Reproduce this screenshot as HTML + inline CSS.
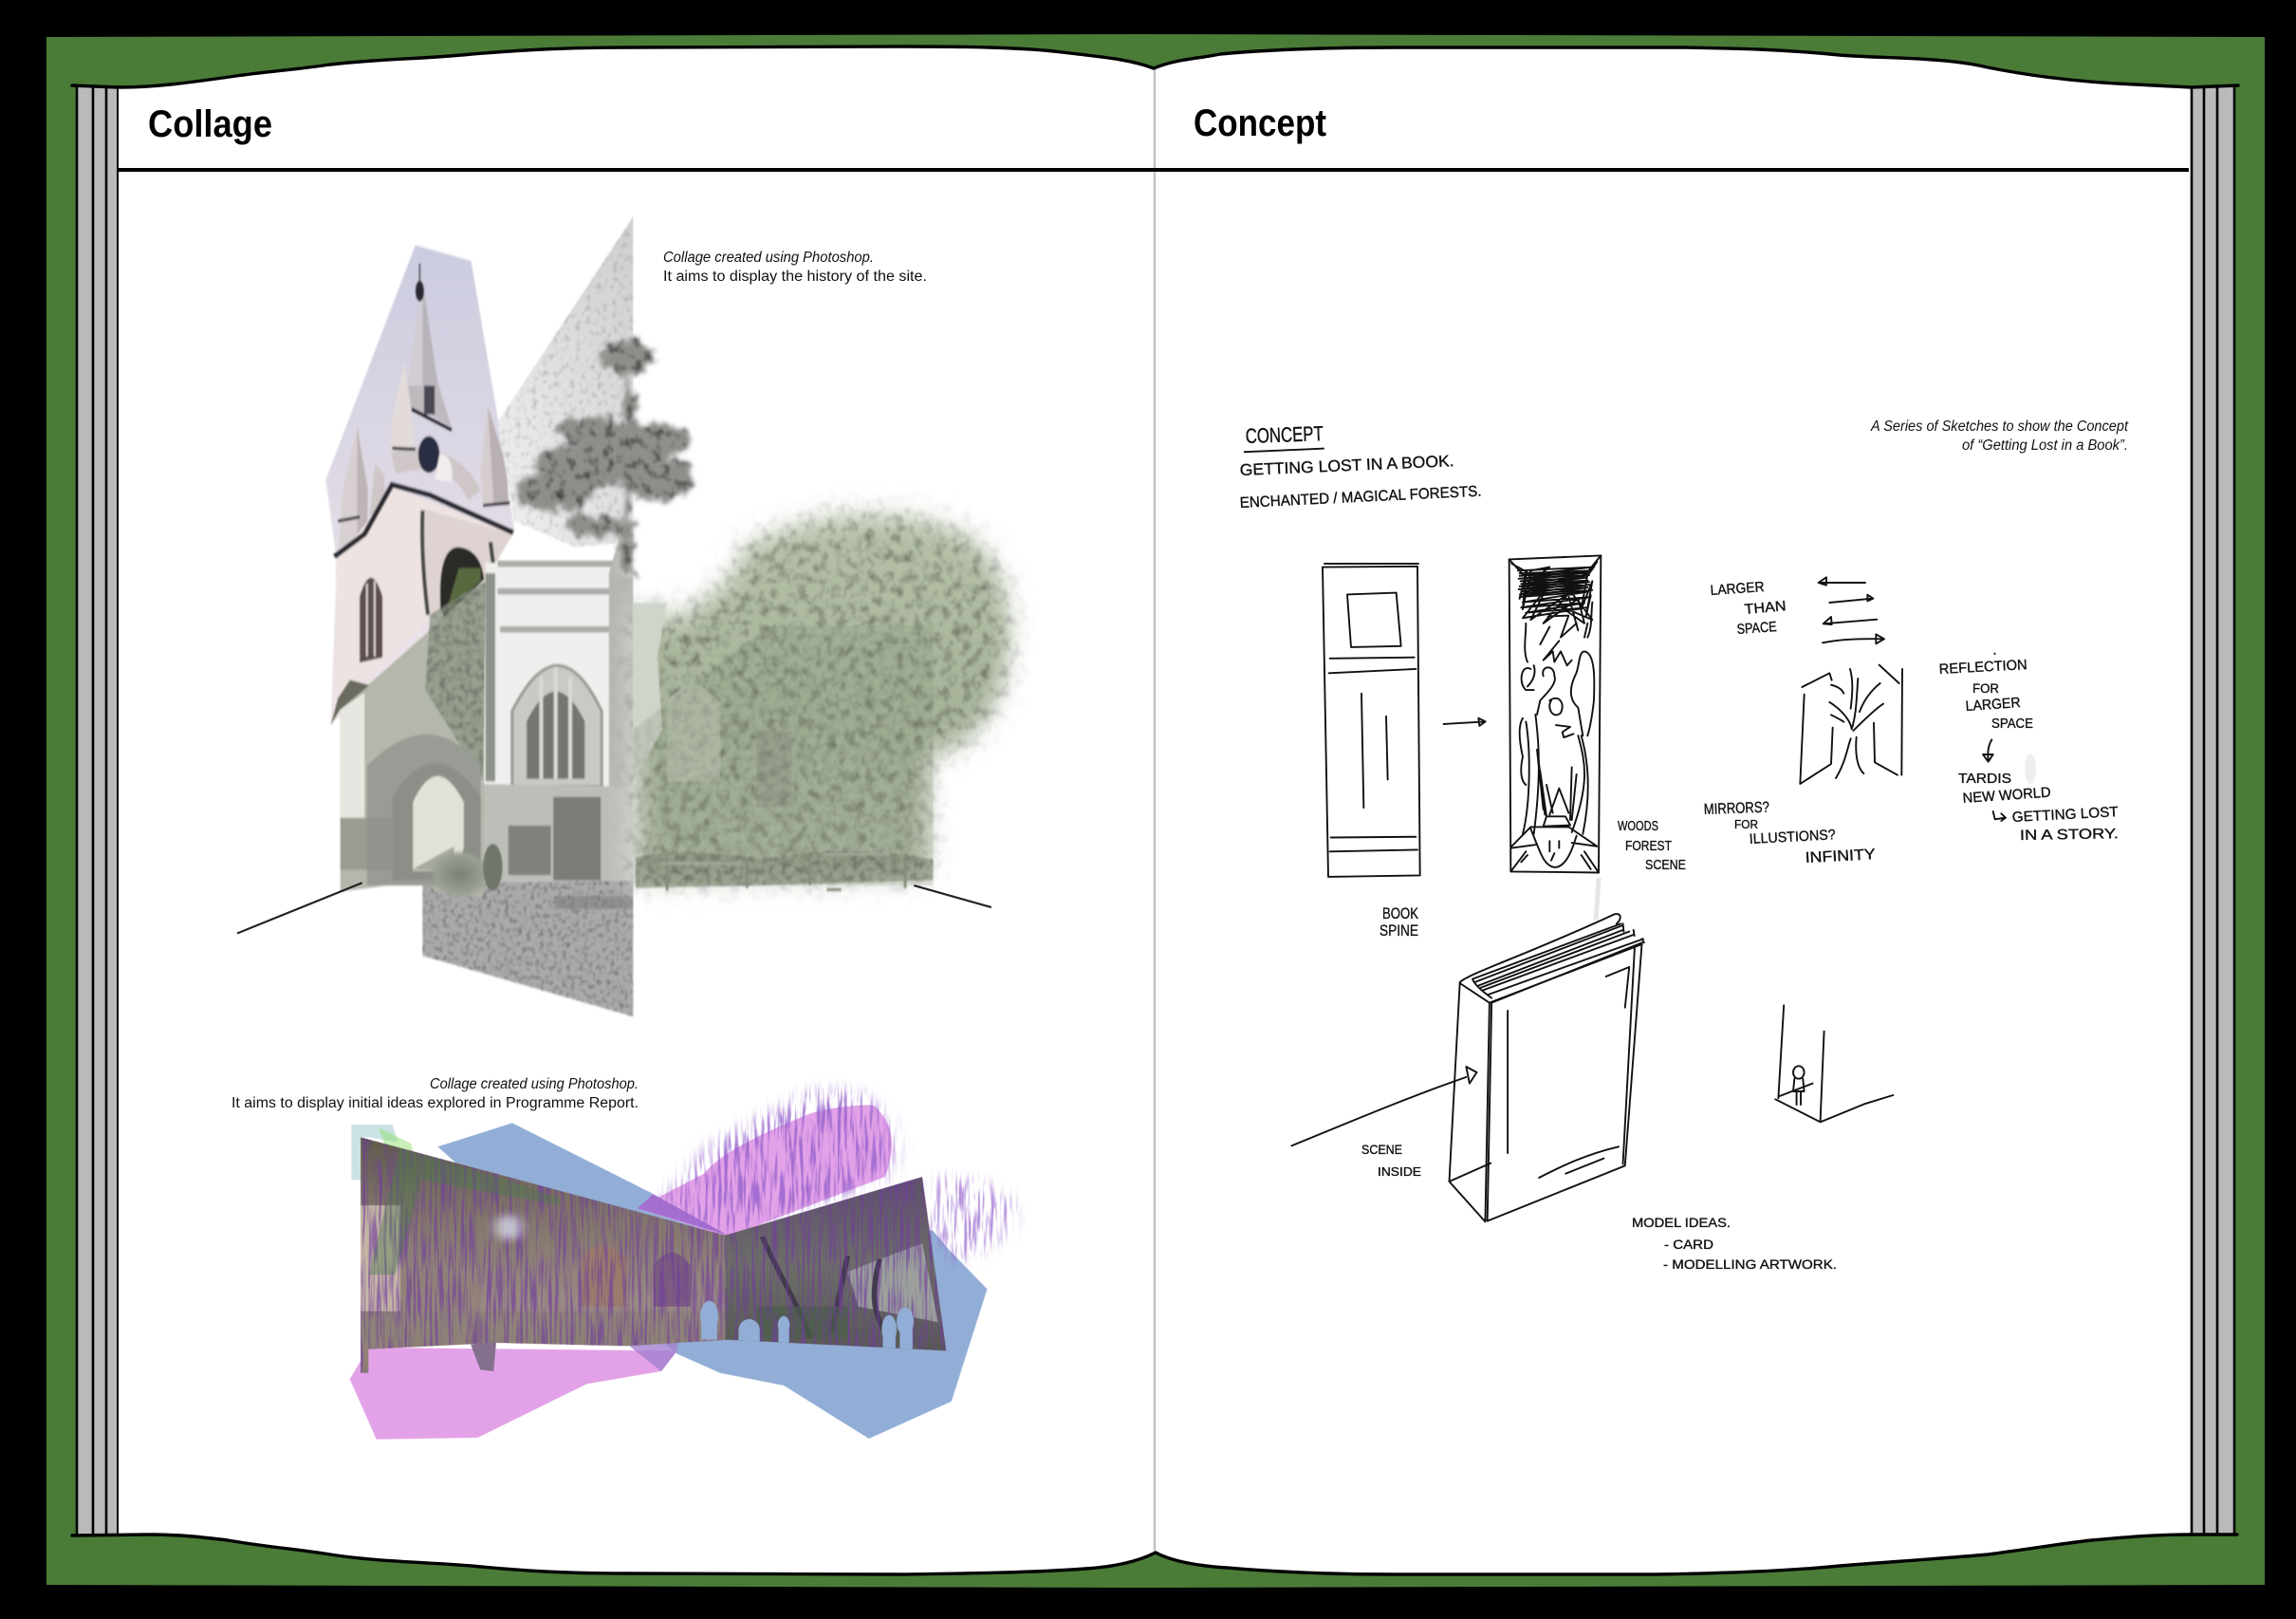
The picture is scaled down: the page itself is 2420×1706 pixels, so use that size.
<!DOCTYPE html>
<html lang="en"><head><meta charset="utf-8"><title>Collage and Concept</title>
<style>
html,body{margin:0;padding:0;background:#000}
svg{display:block}
.h{font-family:"Liberation Sans",sans-serif;font-weight:bold;font-size:40px;fill:#000}
.c{font-family:"Liberation Sans",sans-serif;font-size:15.5px;fill:#111}
.w{font-family:"Liberation Sans",sans-serif;fill:#111;stroke:#111;stroke-width:.35}
.s path,.s ellipse,.s line{fill:none;stroke:#111;stroke-width:1.9;stroke-linecap:round;stroke-linejoin:round;vector-effect:non-scaling-stroke}
</style></head><body>
<svg xmlns="http://www.w3.org/2000/svg" width="2420" height="1706" viewBox="0 0 2420 1706">
<defs>
<linearGradient id="sky" x1="0" y1="0" x2="0" y2="1"><stop offset="0" stop-color="#cbcce0"/><stop offset=".5" stop-color="#dfd9e5"/><stop offset="1" stop-color="#efe6e8"/></linearGradient>
<linearGradient id="pale" x1="1" y1="0" x2="0" y2="1"><stop offset="0" stop-color="#cfcfcf"/><stop offset="1" stop-color="#f1f1f1"/></linearGradient>
<linearGradient id="wallL" x1="0" y1="0" x2="0" y2="1"><stop offset="0" stop-color="#5f5c4c"/><stop offset=".3" stop-color="#7f7468"/><stop offset=".7" stop-color="#9a8a84"/><stop offset="1" stop-color="#8b7d72"/></linearGradient>
<linearGradient id="wallR" x1="0" y1="0" x2="0" y2="1"><stop offset="0" stop-color="#5d4f6b"/><stop offset=".5" stop-color="#6d6f68"/><stop offset="1" stop-color="#565a50"/></linearGradient>
<linearGradient id="ivy" x1="0" y1="0" x2="0" y2="1"><stop offset="0" stop-color="#b7c2a9"/><stop offset=".5" stop-color="#a8b49a"/><stop offset="1" stop-color="#aeb8a2"/></linearGradient>
<radialGradient id="bushg"><stop offset="0" stop-color="#7b8274"/><stop offset=".8" stop-color="#9aa093"/><stop offset="1" stop-color="#9aa093" stop-opacity="0"/></radialGradient>
<filter id="soft" x="-3%" y="-3%" width="106%" height="106%"><feGaussianBlur stdDeviation="1.7"/></filter>
<filter id="grainP" x="0" y="0" width="100%" height="100%" color-interpolation-filters="sRGB">
<feTurbulence type="fractalNoise" baseFrequency=".09" numOctaves="3" seed="2" result="n"/>
<feColorMatrix in="n" type="matrix" values=".55 0 0 0 .74 .55 0 0 0 .74 .55 0 0 0 .74 0 0 0 0 1" result="g"/>
<feBlend in="SourceGraphic" in2="g" mode="multiply" result="b"/>
<feComposite in="b" in2="SourceAlpha" operator="in"/></filter>
<filter id="grain" x="0" y="0" width="100%" height="100%" color-interpolation-filters="sRGB">
<feTurbulence type="fractalNoise" baseFrequency=".11" numOctaves="3" seed="2" result="n"/>
<feColorMatrix in="n" type="matrix" values=".95 0 0 0 .52 .95 0 0 0 .52 .95 0 0 0 .52 0 0 0 0 1" result="g"/>
<feBlend in="SourceGraphic" in2="g" mode="multiply" result="b"/>
<feComposite in="b" in2="SourceAlpha" operator="in"/></filter>
<filter id="leaf" x="-15%" y="-15%" width="130%" height="130%" color-interpolation-filters="sRGB">
<feGaussianBlur in="SourceGraphic" stdDeviation="26" result="s"/>
<feTurbulence type="fractalNoise" baseFrequency=".05" numOctaves="4" seed="7" result="n"/>
<feColorMatrix in="n" type="matrix" values=".8 0 0 0 .56 .8 0 0 0 .56 .8 0 0 0 .56 0 0 0 0 1" result="g"/>
<feBlend in="s" in2="g" mode="multiply" result="b"/>
<feComposite in="b" in2="s" operator="in"/></filter>
<filter id="leafc" x="0" y="0" width="100%" height="100%" color-interpolation-filters="sRGB">
<feTurbulence type="fractalNoise" baseFrequency=".075" numOctaves="4" seed="11" result="n"/>
<feColorMatrix in="n" type="matrix" values=".85 0 0 0 .5 .85 0 0 0 .5 .85 0 0 0 .5 0 0 0 0 1" result="g"/>
<feBlend in="SourceGraphic" in2="g" mode="multiply" result="b"/>
<feComposite in="b" in2="SourceAlpha" operator="in"/></filter>
<filter id="tree" x="-10%" y="-10%" width="120%" height="120%" color-interpolation-filters="sRGB">
<feTurbulence type="fractalNoise" baseFrequency=".05" numOctaves="3" seed="5" result="n"/>
<feDisplacementMap in="SourceGraphic" in2="n" scale="40" xChannelSelector="R" yChannelSelector="G" result="d"/>
<feGaussianBlur in="d" stdDeviation="5" result="s"/>
<feColorMatrix in="n" type="matrix" values="1.4 0 0 0 .3 1.4 0 0 0 .3 1.4 0 0 0 .3 0 0 0 0 1" result="g"/>
<feBlend in="s" in2="g" mode="multiply" result="b"/>
<feComposite in="b" in2="s" operator="in"/></filter>
<filter id="b12" x="-50%" y="-50%" width="200%" height="200%"><feGaussianBlur stdDeviation="12"/></filter>
<filter id="streak" x="0" y="0" width="100%" height="100%" color-interpolation-filters="sRGB">
<feTurbulence type="fractalNoise" baseFrequency=".2 .006" numOctaves="2" seed="3"/>
<feColorMatrix type="matrix" values="0 0 0 0 .44 0 0 0 0 .24 0 0 0 0 .62 4.5 0 0 0 -2"/>
<feComposite in2="SourceAlpha" operator="in"/></filter>
<filter id="streakB" x="-10%" y="-10%" width="120%" height="120%" color-interpolation-filters="sRGB">
<feGaussianBlur in="SourceAlpha" stdDeviation="18" result="a"/>
<feTurbulence type="fractalNoise" baseFrequency=".16 .008" numOctaves="3" seed="9"/>
<feColorMatrix type="matrix" values="0 0 0 0 .58 0 0 0 0 .38 0 0 0 0 .8 5 0 0 0 -2.3"/>
<feComposite in2="a" operator="in"/></filter>
<clipPath id="photo"><path d="M285 265L970 575L1340 390L1385 940L975 905L785 925L540 915L300 935L300 1010L285 1010Z"/></clipPath>
</defs>

<rect width="2420" height="1706" fill="#000"/>
<path d="M49 39L1200 36L2387 39L2387 1670L1200 1673L49 1670Z" fill="#4a7c38"/>

<path fill="#fff" d="M124 92C165 92 200 87 249 80C285 75 315 73 348 68C400 62 450 62 497 57C560 52 600 50 663 50L953 49C1020 49 1080 50 1119 55C1160 60 1190 62 1216 72C1240 62 1262 62 1286 57C1340 52 1400 50 1472 50L1776 50C1830 51 1880 52 1939 58C1990 62 2050 60 2095 71C2150 82 2200 87 2251 89L2310 92L2310 1617C2270 1617 2240 1620 2204 1623C2170 1627 2140 1632 2095 1638C2050 1642 1990 1646 1939 1650C1880 1656 1810 1658 1745 1659L1472 1659C1400 1659 1340 1656 1293 1652C1262 1650 1235 1645 1218 1636C1200 1645 1175 1651 1144 1653C1090 1657 1020 1658 953 1659L663 1658C600 1658 560 1656 497 1650C450 1646 400 1646 348 1638C310 1632 280 1630 240 1623C215 1620 190 1617 158 1617L124 1617Z"/>

<rect x="81" y="92" width="43" height="1525" fill="#bababa"/>
<rect x="2310" y="92" width="45" height="1525" fill="#bababa"/>
<g stroke="#000" stroke-width="2.6" fill="none">
<path d="M81 90V1618M98 90V1618M112 90V1618"/><path d="M124 90V1618" stroke-width="2"/>
<path d="M2310 92V1617M2323 92V1617M2337 92V1617M2355 92V1617"/>
</g>
<path d="M1217 72V1636" stroke="#c4c4c4" stroke-width="2.6"/>
<path d="M124 179H2307" stroke="#000" stroke-width="4"/>
<path fill="none" stroke="#000" stroke-width="3.4" stroke-linecap="round" d="M76 90L124 92C165 92 200 87 249 80C285 75 315 73 348 68C400 62 450 62 497 57C560 52 600 50 663 50L953 49C1020 49 1080 50 1119 55C1160 60 1190 62 1216 72C1240 62 1262 62 1286 57C1340 52 1400 50 1472 50L1776 50C1830 51 1880 52 1939 58C1990 62 2050 60 2095 71C2150 82 2200 87 2251 89L2309 92L2359 90"/>
<path fill="none" stroke="#000" stroke-width="3.4" stroke-linecap="round" d="M76 1618L158 1617C190 1617 215 1620 240 1623C280 1630 310 1632 348 1638C400 1646 450 1646 497 1650C560 1656 600 1658 663 1658L953 1659C1020 1658 1090 1657 1144 1653C1175 1651 1200 1645 1218 1636C1235 1645 1262 1650 1293 1652C1340 1656 1400 1659 1472 1659L1745 1659C1810 1658 1880 1656 1939 1650C1990 1646 2050 1642 2095 1638C2140 1632 2170 1627 2204 1623C2240 1620 2270 1617 2309 1617L2358 1617"/>

<text class="h" x="156" y="144" textLength="131" lengthAdjust="spacingAndGlyphs">Collage</text>
<text class="h" x="1258" y="143" textLength="140" lengthAdjust="spacingAndGlyphs">Concept</text>

<!-- upper collage -->
<g transform="translate(300 220) scale(.5102 .5485)">
<g filter="url(#soft)">
<polygon points="270,70 385,100 440,400 475,620 415,715 95,992 108,680 85,520" fill="url(#sky)"/>
<polygon points="285,140 252,345 318,345" fill="#d2ccd3"/><polygon points="285,140 285,345 318,345" fill="#b8b3bb"/>
<path d="M279 105V165" stroke="#333" stroke-width="3"/><ellipse cx="279" cy="158" rx="9" ry="20" fill="#2b2b33"/>
<polygon points="255,340 318,340 345,420 300,395 262,390" fill="#bfb8bd"/><path d="M288 340h22v55h-22z" fill="#4c4a52"/><path d="M262 385L345 425" stroke="#24222a" stroke-width="7"/>
<polygon points="150,420 120,540 112,650 170,640 172,540" fill="#d8cfd1"/><polygon points="150,420 150,640 170,640 172,540" fill="#bdb4b6"/>
<polygon points="247,295 222,400 218,480 268,470 264,400" fill="#e3dada"/>
<polygon points="420,380 405,500 410,570 462,570 460,500" fill="#d6cdce"/><polygon points="420,380 432,570 462,570 460,500" fill="#b9b0b2"/>
<polygon points="187,490 175,590 210,570 205,510" fill="#cfc6c7"/>
<path d="M220 470C280 440 370 470 405 540L380 560C350 500 290 490 230 510Z" fill="#cfc6c7"/>
<polygon points="105,680 225,535 470,625 415,715 300,785 110,960" fill="#ede3e1"/>
<polygon points="280,575 470,625 415,715 295,785" fill="#ded3d1"/>
<ellipse cx="298" cy="472" rx="22" ry="35" fill="#2a2e42"/>
<path d="M320 470C340 470 350 495 345 525L310 520Z" fill="#f2ecec"/>
<path d="M103 668L165 625L222 530L300 550L472 622" fill="none" stroke="#2c2a32" stroke-width="10"/>
<path d="M110 600L155 592M410 570L465 565M222 460L270 462" fill="none" stroke="#3b3a40" stroke-width="6"/>
<path d="M285 580C282 650 288 720 296 780M425 640L432 690" fill="none" stroke="#4a4a46" stroke-width="8"/>
<path d="M155 872V745Q178 672 202 745V862Z" fill="#5b4f4e"/><path d="M170 720V860M186 715V860" stroke="#e0d6d6" stroke-width="4"/>
<path d="M322 770Q315 650 360 650Q405 655 412 712L330 785Z" fill="#2a2b26"/><path d="M335 770L360 690L405 690L405 715Z" fill="#58693f"/>

<polygon points="720,15 720,640 600,650 475,600 462,530 440,410" fill="url(#pale)" filter="url(#grainP)"/>

<polygon points="415,680 720,680 720,1300 410,1310" fill="#efefed"/>
<path d="M440 682H700M440 735H700M445 808H700" stroke="#acaca9" stroke-width="12"/>
<path d="M425 700V1100" stroke="#8d938a" stroke-width="20"/>
<path d="M670 700V1300H720V620H695Z" fill="#b5b5b1"/>
<path d="M470 1110V965Q565 790 655 965V1110Z" fill="#c9c9c5" stroke="#9a9a96" stroke-width="6"/>
<path d="M500 1095V985Q560 870 620 985V1095Z" fill="#757572"/><path d="M530 900V1095M560 880V1095M590 900V1095" stroke="#d8d8d4" stroke-width="8"/>
<polygon points="410,1105 720,1110 720,1305 410,1320" fill="#bcbeb8"/>
<rect x="462" y="1185" width="88" height="95" fill="#80817b"/><rect x="555" y="1130" width="98" height="160" fill="#7a7b75"/>

<polygon points="285,1292 310,1296 720,1290 720,1552 285,1435" fill="#aaa" filter="url(#grain)"/>
<path d="M560 1320H720V1345H560Z" fill="#777" opacity=".5"/>

<g fill="#8e8f8b" filter="url(#tree)">
<ellipse cx="705" cy="285" rx="60" ry="36"/><ellipse cx="715" cy="385" rx="20" ry="30"/>
<ellipse cx="745" cy="445" rx="100" ry="36"/><ellipse cx="640" cy="425" rx="90" ry="28"/><ellipse cx="640" cy="490" rx="125" ry="46"/><ellipse cx="775" cy="520" rx="75" ry="44"/><ellipse cx="560" cy="545" rx="85" ry="40"/><ellipse cx="640" cy="610" rx="65" ry="24"/>
<path d="M700 300h18v320h-18z"/><path d="M690 600h32v100h-32z"/>
</g>

<path d="M720 757L795 757L790 800C850 720 920 740 930 650C1050 575 1250 545 1400 610C1530 660 1530 860 1480 955C1440 1025 1400 1050 1340 1060L1340 1290L1150 1300L950 1300L720 1305Z" fill="url(#ivy)" filter="url(#leaf)"/>
<polygon points="720,757 790,757 770,860 780,1000 720,1100" fill="#d0d5cb"/>
<path d="M790 1085V950Q840 880 900 950V1100H790Z" fill="#c6cdbf" opacity=".55"/>
<rect x="975" y="1005" width="72" height="145" fill="#8b9085" opacity=".45"/>
<path d="M1000 800H1340V1300H720V1000Z" fill="#8c9a7f" opacity=".25" filter="url(#leafc)"/>
<path d="M725 1245C800 1230 900 1235 1000 1250C1100 1225 1250 1230 1340 1250V1290L1000 1300L725 1305Z" fill="#8c9480" opacity=".7" filter="url(#leafc)"/>
<path d="M790 1245V1310M955 1245V1305M1085 1250V1300M1282 1240V1305M1120 1308H1150" stroke="#868c7c" stroke-width="6" fill="none"/>
<path d="M780 1258H945M1115 1240H1250" stroke="#a0a696" stroke-width="6"/>

<polygon points="115,962 415,715 410,1322 308,1312 308,1288 115,1312" fill="#b0b3a8" fill-opacity=".95"/>
<polygon points="115,962 165,930 165,1170 115,1170" fill="#e6e7e1"/>
<polygon points="300,780 415,715 410,1100 290,925" fill="#8d9785" opacity=".75" filter="url(#leafc)"/>
<path d="M170 1300V1070Q300 950 405 1070V1300Z" fill="#999c94"/>
<path d="M222 1290V1130Q310 1000 405 1130V1290Z" fill="#8c8f88"/>
<path d="M265 1272V1140Q315 1040 370 1140V1225L360 1272Z" fill="#e0e1d7"/>
<path d="M262 1270L350 1225V1272Z" fill="#a7a89f"/>
<rect x="115" y="1170" width="105" height="100" fill="#8e9089" opacity=".7"/>
<ellipse cx="362" cy="1278" rx="62" ry="46" fill="url(#bushg)"/><ellipse cx="430" cy="1265" rx="20" ry="45" fill="#70766a"/>
<polygon points="95,992 115,962 175,915 135,905 110,940" fill="#6a6b5e"/>
</g>
<path d="M-98 1392L160 1295M1300 1300L1460 1342" stroke="#222" stroke-width="4" fill="none"/>
</g>

<text class="c" x="699" y="276" textLength="222" lengthAdjust="spacingAndGlyphs" font-style="italic">Collage created using Photoshop.</text>
<text class="c" x="699" y="296" textLength="278" lengthAdjust="spacingAndGlyphs">It aims to display the history of the site.</text>

<!-- lower collage -->
<text class="c" x="453" y="1147" textLength="220" lengthAdjust="spacingAndGlyphs" font-style="italic">Collage created using Photoshop.</text>
<text class="c" x="244" y="1167" textLength="429" lengthAdjust="spacingAndGlyphs">It aims to display initial ideas explored in Programme Report.</text>
<g transform="translate(220 1110) scale(.5612 .3333)">
<polygon points="430,295 570,220 830,440 975,580 1360,560 1390,620 1462,745 1395,1100 1240,1218 1080,1050 960,1010 880,950 700,700" fill="#92aed6"/>
<polygon points="265,1030 315,1220 505,1215 710,1045 850,1005 880,940 300,930" fill="#e3a2e8"/>
<path d="M805 490L930 380C960 320 1020 265 1130 190C1180 165 1240 160 1250 165C1290 230 1290 300 1270 390L975 580Z" fill="#e3a2e8"/>
<polygon points="805,490 835,445 975,575 965,570" fill="#a56fd0"/>
<polygon points="880,940 850,1005 790,925 880,905" fill="#a381cf" opacity=".8"/>
<path d="M930 320C960 250 1050 200 1110 130C1160 100 1240 105 1245 160C1290 210 1300 300 1270 400L975 570L850 470Z" fill="#000" filter="url(#streakB)" opacity=".8"/>
<path d="M1360 400C1420 370 1490 420 1520 490C1510 560 1460 640 1400 660L1350 560Z" fill="#000" filter="url(#streakB)" opacity=".7"/>
<polygon points="268,225 345,225 355,280 300,265 285,265 285,400 268,400" fill="#a9cfd2" opacity=".6"/>
<polygon points="320,235 380,285 385,320 330,290" fill="#90e070" opacity=".5"/>
<g clip-path="url(#photo)">
<rect x="285" y="260" width="690" height="760" fill="url(#wallL)"/>
<rect x="970" y="380" width="420" height="570" fill="url(#wallR)"/>
<path d="M285 480H360V815H285Z" fill="#cfc1ad" opacity=".85"/>
<path d="M360 700Q450 680 510 720V815H360Z" fill="#8f8174" opacity=".6"/>
<path d="M285 815H970V930H285Z" fill="#8d8277" opacity=".8"/>
<path d="M1200 690L1340 600L1370 850L1220 800Z" fill="#9ba09c"/>
<path d="M700 800V650Q735 560 785 650V800Z" fill="#9a7a68" opacity=".85"/>
<path d="M835 800V670Q870 590 905 670V800Z" fill="#75537f" opacity=".8"/>
<path d="M1040 580C1070 700 1110 800 1130 900M1200 640C1190 720 1180 800 1170 880M1260 650C1250 720 1240 800 1270 880" stroke="#3f3a48" stroke-width="10" fill="none"/>
<path d="M1030 800H1200V900H1030Z" fill="#4a5f48" opacity=".7"/>
<rect x="285" y="265" width="1100" height="750" fill="#000" filter="url(#streak)" opacity=".65"/>
<path d="M360 300L560 400L660 460V480L400 400L350 700H300Z" fill="#4a7a4a" opacity=".4"/>
<ellipse cx="563" cy="550" rx="24" ry="40" fill="#e6ecfa" opacity=".7" filter="url(#b12)"/>
<g fill="#92aed6">
<ellipse cx="940" cy="830" rx="17" ry="48"/><path d="M925 850H955V905H925Z"/>
<ellipse cx="1015" cy="875" rx="20" ry="35"/><path d="M995 880H1035V920H995Z"/>
<ellipse cx="1080" cy="860" rx="11" ry="30"/><path d="M1070 860H1090V915H1070Z"/>
<ellipse cx="1278" cy="872" rx="14" ry="45"/><path d="M1266 880H1290V935H1266Z"/>
<ellipse cx="1308" cy="848" rx="16" ry="45"/><path d="M1298 860H1322V935H1298Z"/>
</g>
</g>
<path d="M492 920L540 912L535 1005L510 1000Z" fill="#84708d"/>
</g>

<!-- faint smudges -->
<path d="M1685 925L1682 970" stroke="#e6e6e6" stroke-width="5" fill="none"/>
<ellipse cx="2140" cy="810" rx="6" ry="16" fill="#efefef"/>

<g class="s" transform="translate(1280 420) scale(.33333 .37)">
<path d="M95 152C180 148 270 146 345 142"/>
<path d="M342 480L642 478L650 1358L360 1362Z"/>
<path d="M348 470L645 470"/><path d="M420 558L575 553L590 705L432 708Z"/>
<path d="M365 740L632 737M362 782L637 770M465 840L472 1165M543 905L548 1085M368 1250L637 1248M365 1290L642 1285"/>
<path d="M725 927L855 920M835 910L857 920L838 932Z"/>
<path d="M932 458L1222 447L1215 1350L937 1347Z"/>
<path d="M932 458L985 510M1222 447L1165 510M937 1347L985 1290M1215 1350L1170 1290"/>
<path d="M960 490L1195 480L965 505L1180 495L968 520L1175 510L965 535L1185 522L970 550L1180 538L965 565L1180 550L975 580L1190 565L970 595L1170 582L985 610L1180 595L975 625L1050 540L1000 630L1120 555L1040 640L1150 570L1170 640L1090 590L1195 630L1110 530L1150 660"/>
<path d="M965 498L1190 490L962 513L1185 503L970 528L1180 518L962 543L1190 530L966 558L1195 545M965 570L985 500L975 600L1000 490L990 560M1180 500L1160 600L1195 520L1175 620L1190 560"/>
<path d="M960 480L990 495L940 470M1210 465L1175 510L1200 480L1160 505M1000 490L1060 480L1030 500L1140 485"/>
<path d="M1055 620L1120 618L1095 680L1145 640M1060 650L1030 700M1090 690L1040 745L1070 720L1075 750L1095 720L1115 760L1130 745"/>
<path d="M985 640C985 680 975 720 990 750M1180 640L1170 680M1195 580C1190 620 1195 650 1180 680"/>
<path d="M975 1240C1000 1150 1000 1000 985 920M1010 1240C1030 1100 1030 1000 1015 900M1165 1240C1190 1130 1185 1040 1160 960M1130 1235C1185 1100 1175 1040 1150 960"/>
<path d="M1020 1000L1040 1170M1025 1030L1045 1185M1030 1060L1050 1190M1130 1050L1125 1200M1145 1070L1130 1200"/>
<path d="M1000 770C970 755 960 810 985 830L1010 830M1010 760C1020 790 1000 810 990 820M1040 790C1030 760 1075 755 1075 790C1085 810 1050 840 1030 860L1020 900M1170 720C1150 720 1155 770 1140 790C1120 830 1125 860 1150 880L1165 960M1170 720C1210 725 1200 830 1200 860C1195 900 1190 930 1180 960"/>
<path d="M975 910C955 940 970 1000 975 1020C965 1060 970 1090 985 1100M1060 860C1090 840 1110 870 1095 895C1070 915 1050 880 1065 860M1080 930L1125 935L1100 950L1105 965L1135 955"/>
<path d="M1050 1190L1110 1190L1125 1215L1040 1218ZM1060 1185L1090 1110L1120 1180M1050 1100L1070 1180"/>
<path d="M940 1275L1000 1220L1120 1220L1210 1275M1000 1225C1030 1290 1040 1330 1075 1335C1110 1335 1130 1290 1145 1245M940 1280L1020 1270M1130 1265L1210 1275"/>
<path d="M990 1300L970 1320M1160 1300L1190 1340M1060 1260V1290M1090 1260V1280M1075 1295L1065 1315"/>
</g>

<g class="s" transform="translate(1760 420) scale(.33333)">
<path d="M618 582L470 582M470 582L495 565L495 590Z"/>
<path d="M505 645L640 632M625 620L643 632L625 640Z"/>
<path d="M655 698L485 712M510 690L485 712L512 714Z"/>
<path d="M483 772C540 760 600 758 675 760M652 745L678 760L652 775Z"/>
<path d="M425 935L412 1218L510 1155L515 1040M418 912L505 868L512 890"/>
<path d="M662 842L725 900M735 855L733 1190M645 1025L648 1150L720 1190"/>
<path d="M525 1200C555 1150 560 1110 572 1075M590 1070C585 1130 595 1170 613 1185M575 1045C570 1010 530 975 505 960M575 1045C590 1000 590 950 595 885M580 1050C610 1020 650 980 675 965M600 990C615 950 640 920 665 900M570 855C580 890 578 930 572 980M510 905C530 910 545 920 550 932M510 1000C530 1010 540 1015 550 1022"/>
<path d="M1018 1078C1005 1100 1005 1120 1007 1145M990 1125L1022 1125L1007 1148Z"/>
<path d="M1022 1305L1028 1330L1060 1325M1048 1312L1062 1325L1048 1335"/>
<path d="M1027 806L1028 807"/>
</g>

<g class="s" transform="translate(1340 950) scale(.44643 .33333)">
<path d="M445 258L420 885L505 1012L515 320L445 258"/>
<path d="M520 320L510 1010L835 835L875 130L520 320"/>
<path d="M445 255C470 225 600 170 810 40C830 35 825 60 815 70M475 245L825 70M490 265L830 90M500 280L855 105M510 295L878 118M515 320L875 135M475 245C480 265 505 290 520 305"/>
<path d="M480 255L830 75M495 272L845 95M830 70L832 95M855 90L857 108M875 118L880 130"/>
<path d="M558 345L558 795M790 237L845 207L835 335M632 873C680 840 740 800 820 775M695 860L785 812M420 885L518 827M858 140L830 830"/>
<path d="M48 772C180 700 320 620 460 555M460 522L485 540L468 575Z"/>
<path d="M1210 328L1197 622M1305 410L1296 697M1190 625L1296 697L1400 640L1468 612M1200 615L1278 575"/>
<ellipse cx="1245" cy="540" rx="13" ry="20"/>
<path d="M1235 560L1232 600L1258 600L1255 560M1240 600L1240 642M1250 600L1250 642"/>
</g>

<text class="w" font-size="22" x="1313" y="467" textLength="82" lengthAdjust="spacingAndGlyphs" transform="rotate(-2 1313 467)">CONCEPT</text>
<text class="w" font-size="17" x="1307" y="501" textLength="226" lengthAdjust="spacingAndGlyphs" transform="rotate(-2.5 1307 501)">GETTING LOST IN A BOOK.</text>
<text class="w" font-size="16" x="1307" y="535" textLength="255" lengthAdjust="spacingAndGlyphs" transform="rotate(-2.8 1307 535)">ENCHANTED / MAGICAL FORESTS.</text>
<text class="w" font-size="15" x="1705" y="875" textLength="43" lengthAdjust="spacingAndGlyphs">WOODS</text>
<text class="w" font-size="15" x="1713" y="896" textLength="49" lengthAdjust="spacingAndGlyphs">FOREST</text>
<text class="w" font-size="15" x="1734" y="916" textLength="43" lengthAdjust="spacingAndGlyphs">SCENE</text>
<text class="w" font-size="17" x="1457" y="968" textLength="38" lengthAdjust="spacingAndGlyphs">BOOK</text>
<text class="w" font-size="17" x="1454" y="986" textLength="41" lengthAdjust="spacingAndGlyphs">SPINE</text>
<text class="w" font-size="15" x="1803" y="627" textLength="57" lengthAdjust="spacingAndGlyphs" transform="rotate(-4 1803 627)">LARGER</text>
<text class="w" font-size="15" x="1839" y="647" textLength="44" lengthAdjust="spacingAndGlyphs" transform="rotate(-5 1839 647)">THAN</text>
<text class="w" font-size="15" x="1831" y="668" textLength="42" lengthAdjust="spacingAndGlyphs" transform="rotate(-4 1831 668)">SPACE</text>
<text class="w" font-size="15" x="2044" y="710" textLength="93" lengthAdjust="spacingAndGlyphs" transform="rotate(-3 2044 710)">REFLECTION</text>
<text class="w" font-size="14" x="2079" y="730" textLength="28" lengthAdjust="spacingAndGlyphs">FOR</text>
<text class="w" font-size="15" x="2072" y="749" textLength="58" lengthAdjust="spacingAndGlyphs" transform="rotate(-4 2072 749)">LARGER</text>
<text class="w" font-size="15" x="2099" y="767" textLength="44" lengthAdjust="spacingAndGlyphs">SPACE</text>
<text class="w" font-size="15" x="2064" y="825" textLength="56" lengthAdjust="spacingAndGlyphs">TARDIS</text>
<text class="w" font-size="15" x="2069" y="846" textLength="93" lengthAdjust="spacingAndGlyphs" transform="rotate(-4 2069 846)">NEW WORLD</text>
<text class="w" font-size="15" x="2121" y="866" textLength="112" lengthAdjust="spacingAndGlyphs" transform="rotate(-3 2121 866)">GETTING LOST</text>
<text class="w" font-size="15" x="2129" y="885" textLength="104" lengthAdjust="spacingAndGlyphs" transform="rotate(-1 2129 885)">IN A STORY.</text>
<text class="w" font-size="16" x="1796" y="858" textLength="69" lengthAdjust="spacingAndGlyphs" transform="rotate(-2 1796 858)">MIRRORS?</text>
<text class="w" font-size="13" x="1828" y="873" textLength="25" lengthAdjust="spacingAndGlyphs">FOR</text>
<text class="w" font-size="15" x="1844" y="889" textLength="91" lengthAdjust="spacingAndGlyphs" transform="rotate(-3 1844 889)">ILLUSTIONS?</text>
<text class="w" font-size="16" x="1903" y="909" textLength="74" lengthAdjust="spacingAndGlyphs" transform="rotate(-3 1903 909)">INFINITY</text>
<text class="w" font-size="14" x="1435" y="1216" textLength="43" lengthAdjust="spacingAndGlyphs">SCENE</text>
<text class="w" font-size="13" x="1452" y="1239" textLength="46" lengthAdjust="spacingAndGlyphs">INSIDE</text>
<text class="w" font-size="14" x="1720" y="1293" textLength="104" lengthAdjust="spacingAndGlyphs">MODEL IDEAS.</text>
<text class="w" font-size="14" x="1754" y="1316" textLength="52" lengthAdjust="spacingAndGlyphs">- CARD</text>
<text class="w" font-size="14" x="1753" y="1337" textLength="183" lengthAdjust="spacingAndGlyphs">- MODELLING ARTWORK.</text>
<text class="c" x="1972" y="454" textLength="271" lengthAdjust="spacingAndGlyphs" font-style="italic">A Series of Sketches to show the Concept</text>
<text class="c" x="2068" y="474" textLength="175" lengthAdjust="spacingAndGlyphs" font-style="italic">of “Getting Lost in a Book”.</text>
</svg>
</body></html>
